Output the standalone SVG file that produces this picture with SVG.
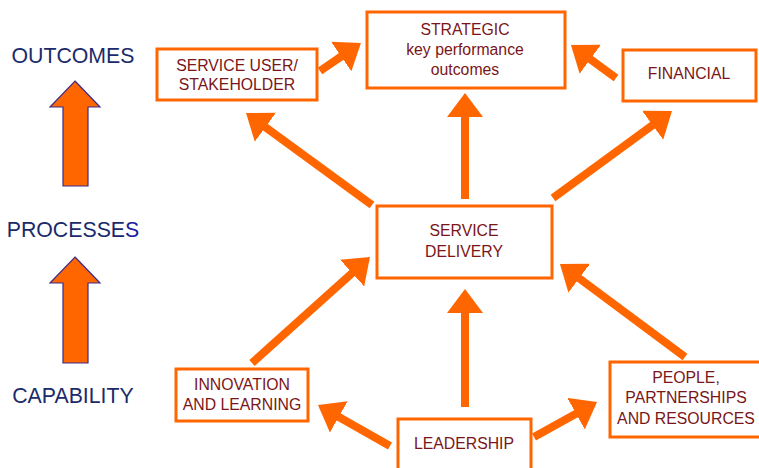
<svg xmlns="http://www.w3.org/2000/svg" width="759" height="468" viewBox="0 0 759 468">
  <style>
    .box { fill: #ffffff; stroke: #ff6600; stroke-width: 3; }
    .lbl { font-family: "Liberation Sans", Arial, sans-serif; font-size: 15.8px; fill: #7a1518; text-anchor: middle; }
    .side { font-family: "Liberation Sans", Arial, sans-serif; font-size: 21.3px; fill: #1b2a6b; text-anchor: middle; }
    .conn { stroke: #ff6600; stroke-width: 8; fill: none; marker-end: url(#head); }
    .up { fill: #ff6600; stroke: #3b2c8c; stroke-width: 1.2; stroke-linejoin: miter; }
  </style>
  <defs>
    <marker id="head" markerUnits="userSpaceOnUse" markerWidth="24" markerHeight="36" viewBox="0 0 24 36" refX="2" refY="18" orient="auto">
      <path d="M0,0 L24,18 L0,36 Z" fill="#ff6600"/>
    </marker>
  </defs>
  <rect width="759" height="468" fill="#ffffff"/>

  <!-- level labels and upward arrows -->
  <g id="levels">
    <text class="side" x="73" y="63">OUTCOMES</text>
    <text class="side" x="73" y="237">PROCESSE<tspan fill="#1c1c9a">S</tspan></text>
    <text class="side" x="73" y="403">CAPABILITY</text>
    <polygon class="up" points="75,81 100,107 88,107 88,186 63,186 63,107 50,107"/>
    <polygon class="up" points="75,257 100,283 88,283 88,363 63,363 63,283 50,283"/>
  </g>

  <!-- connectors -->
  <g id="connectors">
    <line class="conn" x1="320" y1="71" x2="342.8" y2="55.4"/>
    <line class="conn" x1="372" y1="205" x2="263.8" y2="126"/>
    <line class="conn" x1="465" y1="199" x2="465" y2="115"/>
    <line class="conn" x1="553" y1="198" x2="654.2" y2="124"/>
    <line class="conn" x1="616" y1="78" x2="588.7" y2="58"/>
    <line class="conn" x1="252" y1="363" x2="353.6" y2="271.7"/>
    <line class="conn" x1="465" y1="407" x2="465" y2="311"/>
    <line class="conn" x1="685" y1="357" x2="577.6" y2="277.1"/>
    <line class="conn" x1="390" y1="446" x2="337.1" y2="415.9"/>
    <line class="conn" x1="534" y1="437" x2="577.8" y2="412.7"/>
  </g>

  <g id="service-user">
    <rect class="box" x="157" y="49" width="160" height="51"/>
    <text class="lbl" x="237" y="71">SERVICE USER/</text>
    <text class="lbl" x="237" y="90">STAKEHOLDER</text>
  </g>

  <g id="strategic">
    <rect class="box" x="367" y="12" width="198" height="76"/>
    <text class="lbl" x="465" y="35">STRATEGIC</text>
    <text class="lbl" x="465" y="55">key performance</text>
    <text class="lbl" x="465" y="75">outcomes</text>
  </g>

  <g id="financial">
    <rect class="box" x="623" y="50" width="133" height="51"/>
    <text class="lbl" x="689" y="79">FINANCIAL</text>
  </g>

  <g id="service-delivery">
    <rect class="box" x="377" y="206" width="175" height="72"/>
    <text class="lbl" x="464" y="236">SERVICE</text>
    <text class="lbl" x="464" y="257">DELIVERY</text>
  </g>

  <g id="innovation">
    <rect class="box" x="176" y="369" width="132" height="52"/>
    <text class="lbl" x="242" y="390">INNOVATION</text>
    <text class="lbl" x="242" y="410">AND LEARNING</text>
  </g>

  <g id="leadership">
    <rect class="box" x="398" y="419" width="133" height="60"/>
    <text class="lbl" x="464" y="449">LEADERSHIP</text>
  </g>

  <g id="people">
    <rect class="box" x="610" y="362" width="152" height="75"/>
    <text class="lbl" x="686" y="383">PEOPLE,</text>
    <text class="lbl" x="686" y="403">PARTNERSHIPS</text>
    <text class="lbl" x="686" y="424">AND RESOURCES</text>
  </g>
</svg>
